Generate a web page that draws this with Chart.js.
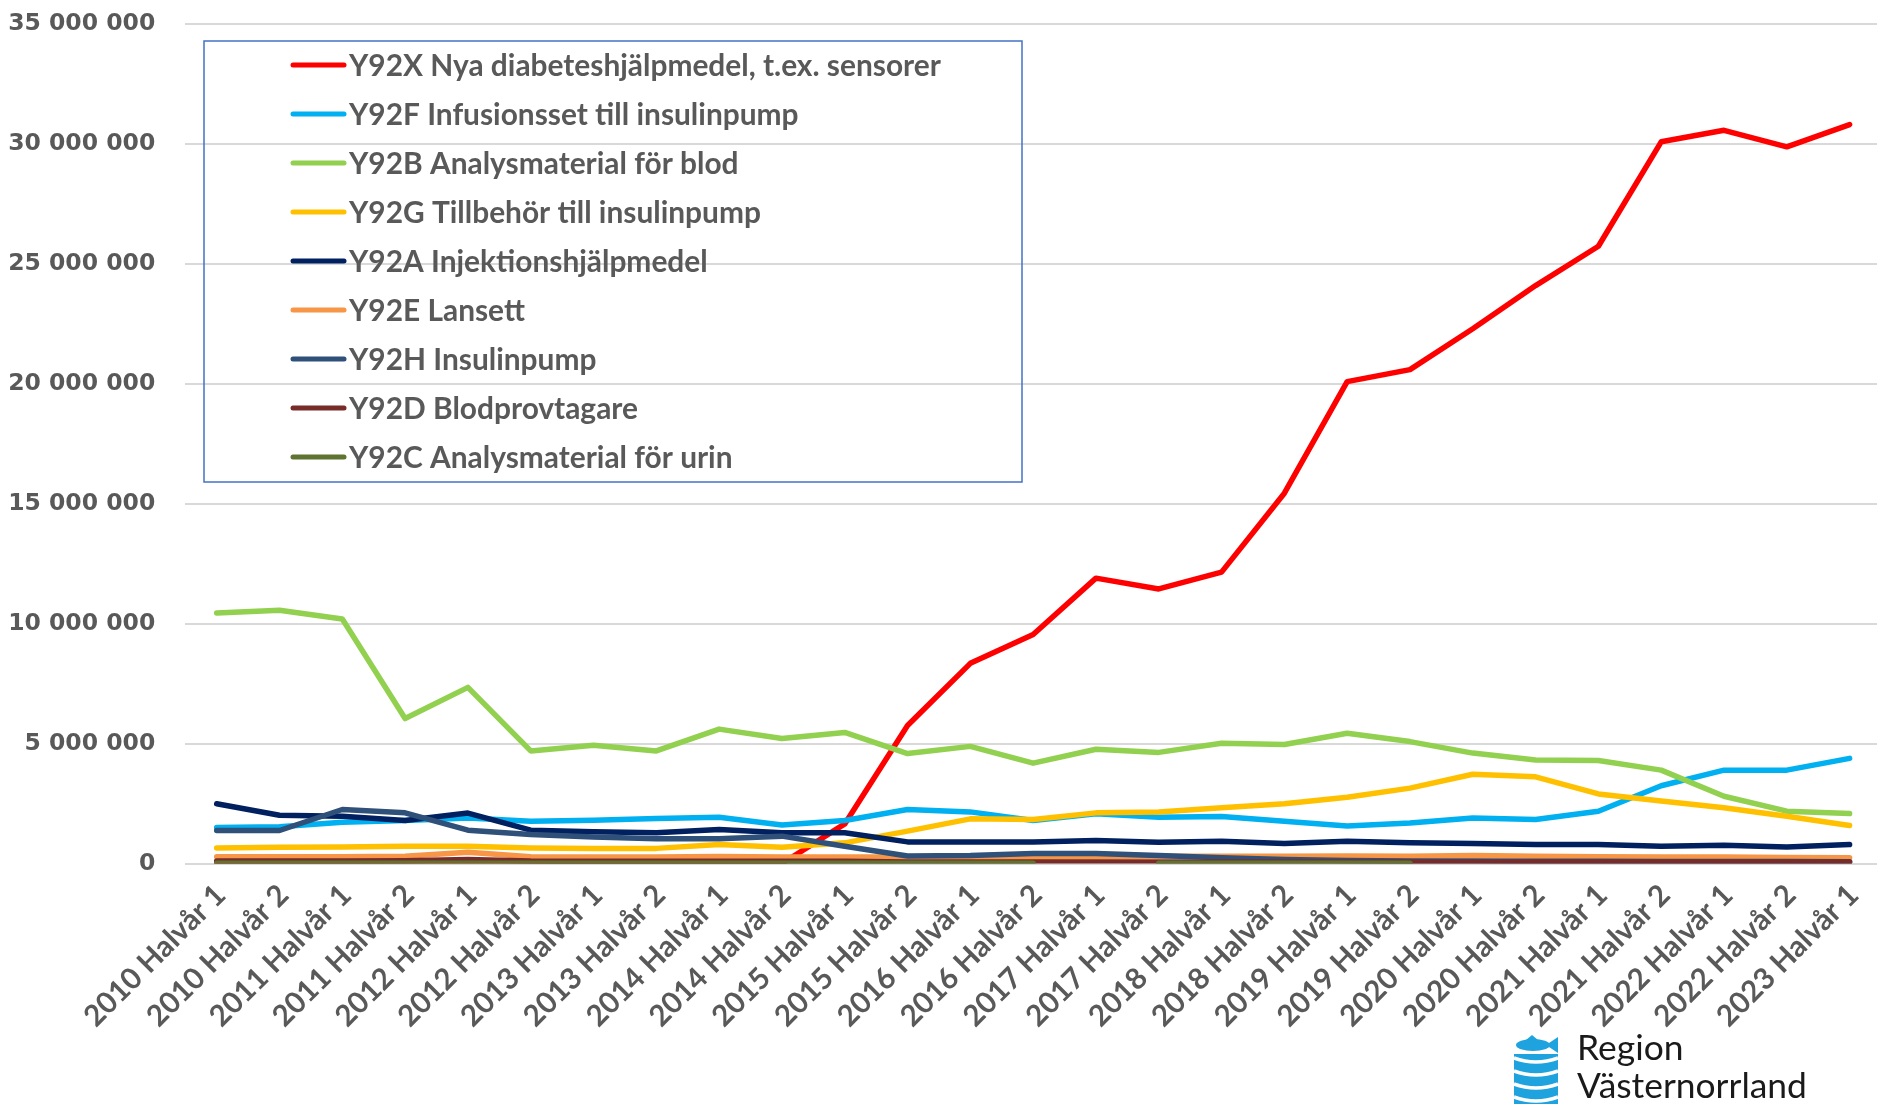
<!DOCTYPE html>
<html>
<head>
<meta charset="utf-8">
<script src="https://cdn.jsdelivr.net/npm/chart.js@4.4.1/dist/chart.umd.min.js"></script>
<style>
  html, body { margin: 0; padding: 0; background: #fff; overflow: hidden; }
  #wrap { width: 1881px; height: 1104px; }
</style>
</head>
<body>
<div id="wrap"><canvas id="chart" width="1881" height="1104"></canvas></div>
<script>
// categories (half years)
const categories = [
  "2010 Halvår 1", "2010 Halvår 2", "2011 Halvår 1", "2011 Halvår 2",
  "2012 Halvår 1", "2012 Halvår 2", "2013 Halvår 1", "2013 Halvår 2",
  "2014 Halvår 1", "2014 Halvår 2", "2015 Halvår 1", "2015 Halvår 2",
  "2016 Halvår 1", "2016 Halvår 2", "2017 Halvår 1", "2017 Halvår 2",
  "2018 Halvår 1", "2018 Halvår 2", "2019 Halvår 1", "2019 Halvår 2",
  "2020 Halvår 1", "2020 Halvår 2", "2021 Halvår 1", "2021 Halvår 2",
  "2022 Halvår 1", "2022 Halvår 2", "2023 Halvår 1"
];

// series values (kr)
const y92x = [0, 0, 0, 0, 0, 0, 0, 0, 0, 0, 1650000, 5750000, 8340000, 9540000,
  11890000, 11440000, 12140000, 15430000, 20080000, 20580000, 22280000, 24080000,
  25720000, 30070000, 30550000, 29860000, 30790000];
const y92f = [1500000, 1530000, 1720000, 1790000, 1900000, 1760000, 1800000, 1870000,
  1930000, 1600000, 1790000, 2250000, 2150000, 1790000, 2070000, 1930000, 1960000,
  1760000, 1560000, 1690000, 1900000, 1830000, 2180000, 3240000, 3890000, 3890000, 4380000];
const y92b = [10440000, 10550000, 10190000, 6040000, 7340000, 4690000, 4930000, 4690000,
  5600000, 5210000, 5460000, 4580000, 4880000, 4180000, 4760000, 4630000, 5010000,
  4960000, 5430000, 5080000, 4600000, 4310000, 4290000, 3890000, 2800000, 2180000, 2080000];
const y92g = [650000, 680000, 690000, 720000, 720000, 650000, 630000, 630000, 790000,
  680000, 860000, 1350000, 1860000, 1830000, 2110000, 2150000, 2320000, 2490000,
  2760000, 3140000, 3720000, 3610000, 2900000, 2600000, 2320000, 1970000, 1580000];
const y92a = [2490000, 2010000, 1970000, 1790000, 2100000, 1390000, 1320000, 1280000,
  1420000, 1280000, 1280000, 900000, 900000, 900000, 960000, 890000, 930000, 830000,
  930000, 860000, 830000, 790000, 790000, 720000, 760000, 690000, 790000];
const y92e = [280000, 280000, 280000, 300000, 470000, 280000, 270000, 270000, 290000,
  270000, 270000, 270000, 260000, 260000, 270000, 300000, 300000, 300000, 310000,
  300000, 330000, 300000, 280000, 270000, 270000, 250000, 240000];
const y92h = [1375000, 1375000, 2250000, 2110000, 1390000, 1210000, 1100000, 1030000,
  1030000, 1140000, 720000, 310000, 330000, 420000, 420000, 330000, 240000, 170000,
  120000, 100000, 100000, 90000, 90000, 80000, 80000, 80000, 70000];
const y92d = [100000, 100000, 100000, 110000, 170000, 100000, 90000, 90000, 90000, 90000,
  90000, 60000, 60000, 60000, 60000, 60000, 60000, 60000, 60000, 60000, 60000, 60000,
  60000, 60000, 60000, 60000, 60000];
const y92c = [10000, 10000, 10000, 10000, 10000, 10000, 10000, 10000, 10000, 10000,
  10000, 10000, 10000, 10000, null, 10000, 10000, 10000, 10000, 10000,
  null, null, null, null, null, null, null];

const seriesNames = [
  "Y92X Nya diabeteshjälpmedel, t.ex. sensorer",
  "Y92F Infusionsset till insulinpump",
  "Y92B Analysmaterial för blod",
  "Y92G Tillbehör till insulinpump",
  "Y92A Injektionshjälpmedel",
  "Y92E Lansett",
  "Y92H Insulinpump",
  "Y92D Blodprovtagare",
  "Y92C Analysmaterial för urin"
];
const seriesData = [y92x, y92f, y92b, y92g, y92a, y92e, y92h, y92d, y92c];
const seriesColors = ["#FF0000", "#00B0F0", "#92D050", "#FFC000", "#002060",
  "#F79646", "#2E5079", "#772C2A", "#5E7430"];

// y axis tick labels
const yTicks = [0, 5000000, 10000000, 15000000, 20000000, 25000000, 30000000, 35000000];

const textGray = "#595959";

// fit a font size so a text gets a given width
function fitSize(text, weight, family, targetWidth) {
  const c = document.createElement("canvas").getContext("2d");
  c.font = weight + " 100px " + family;
  return 100 * targetWidth / c.measureText(text).width;
}
const xLabelSize = fitSize(categories[0], "bold", "Lato", 186);
const legendSize = fitSize(seriesNames[0], "bold", "Lato", 592);
const logoSize = fitSize("Västernorrland", "normal", "Lato", 230);

const datasets = seriesNames.map((name, i) => ({
  label: name,
  data: seriesData[i],
  borderColor: seriesColors[i],
  backgroundColor: seriesColors[i],
  borderWidth: 5.5,
  pointRadius: 0,
  pointHoverRadius: 0,
  tension: 0,
  fill: false,
  spanGaps: false,
  borderCapStyle: "round",
  borderJoinStyle: "round",
  order: seriesNames.length - 1 - i  // later series on top, like Excel
}));

// legend box floating inside the plot
const boxLegend = {
  id: "boxLegend",
  afterDatasetsDraw(chart) {
    const ctx = chart.ctx;
    ctx.save();
    ctx.strokeStyle = "#4472C4";
    ctx.lineWidth = 1.5;
    ctx.strokeRect(204, 41, 818, 441);
    ctx.font = "bold " + legendSize + "px Lato";
    ctx.textBaseline = "middle";
    ctx.textAlign = "left";
    chart.data.datasets.forEach((ds, i) => {
      const y = 65 + i * 49;
      ctx.strokeStyle = ds.borderColor;
      ctx.lineWidth = 5;
      ctx.lineCap = "round";
      ctx.beginPath();
      ctx.moveTo(293, y);
      ctx.lineTo(344, y);
      ctx.stroke();
      ctx.fillStyle = textGray;
      ctx.fillText(ds.label, 349, y + 1);
    });
    ctx.restore();
  }
};

// Region Västernorrland logo, bottom right
const logo = {
  id: "logo",
  afterDraw(chart) {
    const ctx = chart.ctx;
    ctx.save();
    const blue = "#1FA3DE";
    const x0 = 1514, x1 = 1558;
    ctx.fillStyle = blue;
    // fish
    ctx.beginPath();
    ctx.ellipse(1533, 1045, 17, 6, 0, 0, Math.PI * 2);
    ctx.fill();
    ctx.beginPath();
    ctx.moveTo(1546, 1045);
    ctx.lineTo(1558, 1037);
    ctx.lineTo(1558, 1053);
    ctx.closePath();
    ctx.fill();
    ctx.beginPath();
    ctx.moveTo(1526, 1040);
    ctx.lineTo(1532, 1035);
    ctx.lineTo(1538, 1040);
    ctx.closePath();
    ctx.fill();
    // water bands
    ctx.fillRect(x0, 1054, x1 - x0, 50);
    ctx.strokeStyle = "#fff";
    ctx.lineWidth = 3.5;
    [1058, 1071, 1084, 1097].forEach(y => {
      ctx.beginPath();
      ctx.moveTo(x0, y);
      ctx.quadraticCurveTo((x0 + x1) / 2, y + 8, x1, y);
      ctx.stroke();
    });
    ctx.fillStyle = "#1a1a1a";
    ctx.font = logoSize + "px Lato";
    ctx.textAlign = "left";
    ctx.textBaseline = "alphabetic";
    ctx.fillText("Region", 1577, 1060);
    ctx.fillText("Västernorrland", 1577, 1098);
    ctx.restore();
  }
};

new Chart(document.getElementById("chart"), {
  type: "line",
  data: { labels: categories, datasets: datasets },
  options: {
    responsive: false,
    animation: false,
    layout: { padding: { top: 23.5, left: 0, right: 0, bottom: 0 } },
    plugins: {
      legend: { display: false },
      tooltip: { enabled: false }
    },
    scales: {
      x: {
        offset: true,
        grid: { display: false },
        border: { display: false },
        ticks: {
          autoSkip: false,
          minRotation: 45,
          maxRotation: 45,
          padding: 6,
          labelOffset: 4,
          color: textGray,
          font: { family: "Lato", weight: "bold", size: xLabelSize }
        },
        afterFit(scale) { scale.height = 1104 - 863.5; }
      },
      y: {
        min: 0,
        max: 35000000,
        afterBuildTicks(scale) { scale.ticks = yTicks.map(v => ({ value: v })); },
        grid: { color: "#D9D9D9", lineWidth: 2, drawTicks: false },
        border: { display: false },
        ticks: {
          padding: 30,
          color: textGray,
          font: { family: "DejaVu Sans", weight: "bold", size: 23.5 },
          callback: v => String(v).replace(/\B(?=(\d{3})+(?!\d))/g, " ")
        },
        afterFit(scale) {
          scale.width = 185.3;
          scale.paddingTop = 0;
          scale.paddingBottom = 0;
        }
      }
    }
  },
  plugins: [boxLegend, logo]
});
</script>
</body>
</html>
